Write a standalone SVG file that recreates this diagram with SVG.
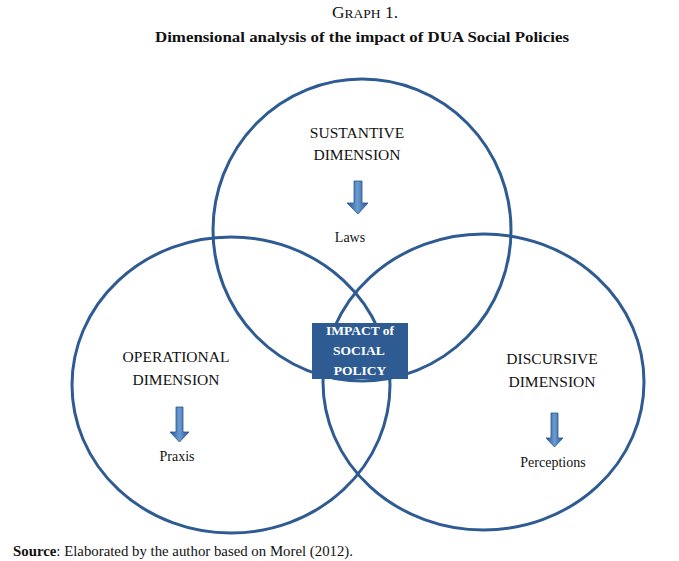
<svg xmlns="http://www.w3.org/2000/svg" width="679" height="561" viewBox="0 0 679 561">
<style>
.ring{fill:none;stroke:#2f5b93;stroke-width:3}
.lbl{font-family:"Liberation Serif",serif;font-size:15.5px;fill:#111;text-anchor:middle}
.sub{font-family:"Liberation Serif",serif;font-size:14px;fill:#111;text-anchor:middle}
.box{fill:#2f5b93}
.boxt{font-family:"Liberation Serif",serif;font-size:13.5px;font-weight:bold;fill:#fff;text-anchor:middle}
.arr{fill:url(#ag);stroke:#2a5590;stroke-width:0.8}
</style>
<defs>
<linearGradient id="ag" x1="0" y1="0" x2="1" y2="0">
<stop offset="0" stop-color="#2a5590"/>
<stop offset="0.5" stop-color="#6a9ad2"/>
<stop offset="1" stop-color="#2a5590"/>
</linearGradient>
</defs>
<rect width="679" height="561" fill="#fff"/>
<g id="title">
<text x="365" y="18" text-anchor="middle" font-family="'Liberation Serif',serif" font-size="16" fill="#111" textLength="66" lengthAdjust="spacingAndGlyphs">G<tspan font-size="12.5">RAPH</tspan> 1.</text>
<text x="362" y="42" text-anchor="middle" font-family="'Liberation Serif',serif" font-size="15.5" font-weight="bold" fill="#111" textLength="414" lengthAdjust="spacingAndGlyphs">Dimensional analysis of the impact of DUA Social Policies</text>
</g>
<g id="connectors">
<ellipse class="ring" cx="362" cy="230" rx="149" ry="151"/>
<ellipse class="ring" cx="231" cy="385" rx="159" ry="148"/>
<ellipse class="ring" cx="483.5" cy="382" rx="160.5" ry="148"/>
</g>
<g id="sustantive">
<text class="lbl" x="357" y="138">SUSTANTIVE</text>
<text class="lbl" x="357" y="160">DIMENSION</text>
<path class="arr" d="M354,181 H362 V203 H368 L358,214 L347,203 H354 Z"/>
<text class="sub" x="350" y="242">Laws</text>
</g>
<g id="operational">
<text class="lbl" x="176" y="362">OPERATIONAL</text>
<text class="lbl" x="176" y="385">DIMENSION</text>
<path class="arr" d="M176,407 H183 V432 H189 L179.5,442 L170,432 H176 Z"/>
<text class="sub" x="177" y="461">Praxis</text>
</g>
<g id="discursive">
<text class="lbl" x="552" y="364">DISCURSIVE</text>
<text class="lbl" x="552" y="387">DIMENSION</text>
<path class="arr" d="M551,413 H558 V438 H563 L554.5,447 L546,438 H551 Z"/>
<text class="sub" x="553" y="467">Perceptions</text>
</g>
<g id="impact">
<rect class="box" x="312" y="323" width="96" height="56"/>
<text class="boxt" x="360" y="335">IMPACT of</text>
<text class="boxt" x="359" y="355">SOCIAL</text>
<text class="boxt" x="360" y="375">POLICY</text>
</g>
<g id="source">
<text x="13" y="556" font-family="'Liberation Serif',serif" font-size="14.5" fill="#111" textLength="340" lengthAdjust="spacingAndGlyphs"><tspan font-weight="bold">Source</tspan>: Elaborated by the author based on Morel (2012).</text>
</g>
</svg>
